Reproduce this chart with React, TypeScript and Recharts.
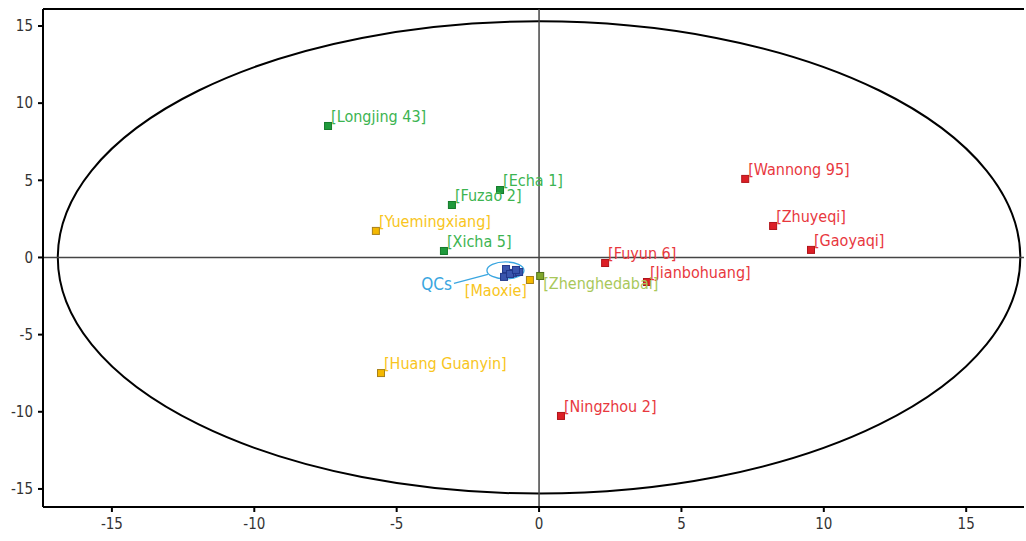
import React from "react";
import {
  ScatterChart,
  Scatter,
  XAxis,
  YAxis,
  ReferenceLine,
  ReferenceArea,
} from "recharts";

const FONT = "'Liberation Sans Narrow', 'DejaVu Sans Condensed', 'Arial Narrow', sans-serif";

const TICKS = [-15, -10, -5, 0, 5, 10, 15];

// score plot samples, grouped by colour
const greenTeas = [
  { name: "Longjing 43", x: -7.41, y: 8.52 },
  { name: "Echa 1", x: -1.37, y: 4.37 },
  { name: "Fuzao 2", x: -3.06, y: 3.4 },
  { name: "Xicha 5", x: -3.34, y: 0.42 },
];

const yellowTeas = [
  { name: "Yuemingxiang", x: -5.73, y: 1.72 },
  { name: "Huang Guanyin", x: -5.55, y: -7.49 },
  { name: "Maoxie", x: -0.32, y: -1.46 },
];

const redTeas = [
  { name: "Wannong 95", x: 7.24, y: 5.09 },
  { name: "Zhuyeqi", x: 8.22, y: 2.04 },
  { name: "Gaoyaqi", x: 9.55, y: 0.49 },
  { name: "Fuyun 6", x: 2.32, y: -0.36 },
  { name: "Jianbohuang", x: 3.79, y: -1.59 },
  { name: "Ningzhou 2", x: 0.77, y: -10.27 },
];

const oliveTeas = [{ name: "Zhenghedabai", x: 0.04, y: -1.2 }];

const qcSamples = [
  { name: "", x: -1.16, y: -0.75 },
  { name: "", x: -0.91, y: -1.0 },
  { name: "", x: -0.7, y: -0.94 },
  { name: "", x: -1.23, y: -1.26 },
  { name: "", x: -1.02, y: -1.07 },
  { name: "", x: -0.81, y: -0.81 },
];

// Hotelling ellipse half axes and QC ring (centre x, centre y, rx, ry)
const T2_RADII = [16.9, 15.3];
const QC_RING = [-1.18, -0.84, 0.65, 0.55];

const X_DOMAIN = [-17.42, 17.03];
const Y_DOMAIN = [-16.17, 16.1];

// labels that don't sit up-right of their marker
const LABEL_SPOT: Record<string, string> = {
  Maoxie: "below-left",
  Zhenghedabai: "below-right",
};

function makeShape(fill: string, stroke: string, textColor: string) {
  return (props: any) => {
    const { cx, cy, payload } = props;
    const name = payload?.name ?? "";
    const spot = LABEL_SPOT[name];
    let tx = cx + 3;
    let ty = cy - 4;
    let anchor: "start" | "end" = "start";
    if (spot === "below-left") {
      tx = cx - 3;
      ty = cy + 16;
      anchor = "end";
    } else if (spot === "below-right") {
      tx = cx + 3;
      ty = cy + 13;
    }
    return (
      <g>
        <rect
          x={cx - 3.5}
          y={cy - 3.5}
          width={7}
          height={7}
          fill={fill}
          stroke={stroke}
          strokeWidth={1}
        />
        {name && (
          <text
            x={tx}
            y={ty}
            textAnchor={anchor}
            fill={textColor}
            fontSize={16}
            fontFamily={FONT}
          >
            {`[${name}]`}
          </text>
        )}
      </g>
    );
  };
}

const EllipseShape = (props: any) => {
  const { x, y, width, height } = props;
  return (
    <ellipse
      cx={x + width / 2}
      cy={y + height / 2}
      rx={width / 2}
      ry={height / 2}
      fill="none"
      stroke="#000"
      strokeWidth={2}
    />
  );
};

const QcRingShape = (props: any) => {
  const { x, y, width, height } = props;
  const cx = x + width / 2;
  const cy = y + height / 2;
  return (
    <g>
      <ellipse
        cx={cx}
        cy={cy}
        rx={width / 2}
        ry={height / 2}
        fill="none"
        stroke="#3aa6e0"
        strokeWidth={1.3}
      />
      <line x1={x + 1} y1={cy + 4} x2={x - 33} y2={cy + 13} stroke="#3aa6e0" strokeWidth={1.3} />
      <text
        x={x - 35}
        y={cy + 20}
        textAnchor="end"
        fill="#3aa6e0"
        fontSize={17}
        fontFamily={FONT}
      >
        QCs
      </text>
    </g>
  );
};

const tickStyle = { fill: "#333", fontSize: 15, fontFamily: FONT };

export default function App() {
  return (
    <div style={{ position: "absolute", left: 0, top: 0 }}>
      <ScatterChart
        width={1026}
        height={541}
        margin={{ top: 9, right: 2, bottom: 0, left: 0 }}
      >
        <XAxis
          type="number"
          dataKey="x"
          domain={X_DOMAIN}
          ticks={TICKS}
          allowDataOverflow
          height={34}
          tick={tickStyle}
          tickSize={5}
          tickMargin={6}
          axisLine={{ stroke: "#000", strokeWidth: 2 }}
          tickLine={{ stroke: "#000", strokeWidth: 2 }}
        />
        <YAxis
          type="number"
          dataKey="y"
          domain={Y_DOMAIN}
          ticks={TICKS}
          allowDataOverflow
          width={43}
          tick={tickStyle}
          tickSize={5}
          tickMargin={5}
          axisLine={{ stroke: "#000", strokeWidth: 2 }}
          tickLine={{ stroke: "#000", strokeWidth: 2 }}
        />
        <ReferenceLine y={Y_DOMAIN[1]} stroke="#000" strokeWidth={2} ifOverflow="visible" />
        <ReferenceLine x={0} stroke="#444" strokeWidth={1.5} />
        <ReferenceLine y={0} stroke="#444" strokeWidth={1.5} />
        <ReferenceArea
          x1={-T2_RADII[0]}
          x2={T2_RADII[0]}
          y1={-T2_RADII[1]}
          y2={T2_RADII[1]}
          shape={EllipseShape}
          ifOverflow="visible"
        />
        <ReferenceArea
          x1={QC_RING[0] - QC_RING[2]}
          x2={QC_RING[0] + QC_RING[2]}
          y1={QC_RING[1] - QC_RING[3]}
          y2={QC_RING[1] + QC_RING[3]}
          shape={QcRingShape}
          ifOverflow="visible"
        />
        <Scatter
          data={greenTeas}
          isAnimationActive={false}
          shape={makeShape("#1f9a3c", "#137a2a", "#3cb451")}
        />
        <Scatter
          data={yellowTeas}
          isAnimationActive={false}
          shape={makeShape("#f4b800", "#a8801a", "#f8c521")}
        />
        <Scatter
          data={redTeas}
          isAnimationActive={false}
          shape={makeShape("#dc1f26", "#b0141a", "#e8383e")}
        />
        <Scatter
          data={oliveTeas}
          isAnimationActive={false}
          shape={makeShape("#7fa62c", "#4f7018", "#a9c85a")}
        />
        <Scatter
          data={qcSamples}
          isAnimationActive={false}
          shape={makeShape("#3a55ad", "#22388a", "#3a55ad")}
        />
      </ScatterChart>
    </div>
  );
}
